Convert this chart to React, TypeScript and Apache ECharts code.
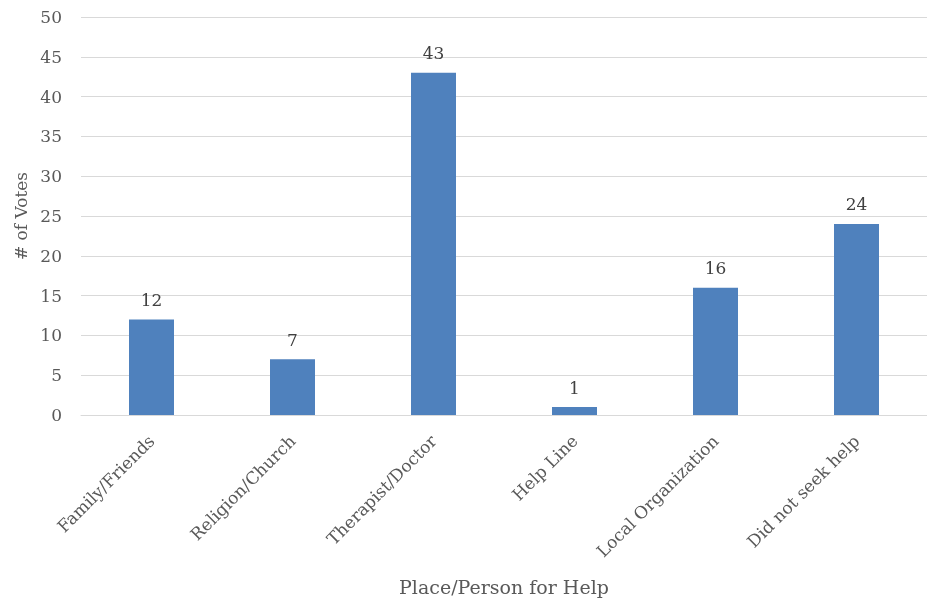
import React, { useEffect, useRef } from "react";
import * as echarts from "echarts";

const categories = ["Family/Friends", "Religion/Church", "Therapist/Doctor", "Help Line", "Local Organization", "Did not seek help"];
const votes = [12, 7, 43, 1, 16, 24];
const yTicks = [0, 5, 10, 15, 20, 25, 30, 35, 40, 45, 50];

const FONT = "'DejaVu Serif', serif";

export default function App() {
  const ref = useRef<HTMLDivElement>(null);
  useEffect(() => {
    if (!ref.current) return;
    const chart = echarts.init(ref.current, undefined, { renderer: "svg" });
    chart.setOption({
      animation: false,
      grid: { left: 81, top: 17, width: 855, height: 400, containLabel: false },
      xAxis: {
        type: "category",
        data: categories,
        name: "Place/Person for Help",
        nameLocation: "middle",
        nameGap: 162,
        nameTextStyle: { fontFamily: FONT, fontSize: 19, color: "#595959" },
        axisLine: { lineStyle: { color: "#d9d9d9", width: 1 } },
        axisTick: { show: false },
        axisLabel: { rotate: 45, margin: 23, fontFamily: FONT, fontSize: 17, color: "#595959", interval: 0 },
      },
      yAxis: {
        type: "value",
        min: yTicks[0],
        max: yTicks[yTicks.length - 1],
        interval: 5,
        name: "# of Votes",
        nameLocation: "middle",
        nameGap: 52,
        nameTextStyle: { fontFamily: FONT, fontSize: 17, color: "#595959" },
        axisLine: { show: false },
        axisTick: { show: false },
        splitLine: { lineStyle: { color: "#d9d9d9", width: 1 } },
        axisLabel: { margin: 19, fontFamily: FONT, fontSize: 17, color: "#595959" },
      },
      series: [
        {
          type: "bar",
          data: votes,
          barWidth: 45,
          itemStyle: { color: "#4F81BD" },
          label: { show: true, position: "top", distance: 11, fontFamily: FONT, fontSize: 17, color: "#404040" },
        },
      ],
    });
    return () => chart.dispose();
  }, []);
  return <div ref={ref} style={{ width: 927, height: 601, position: "fixed", left: 0, top: 0, overflow: "hidden" }} />;
}
